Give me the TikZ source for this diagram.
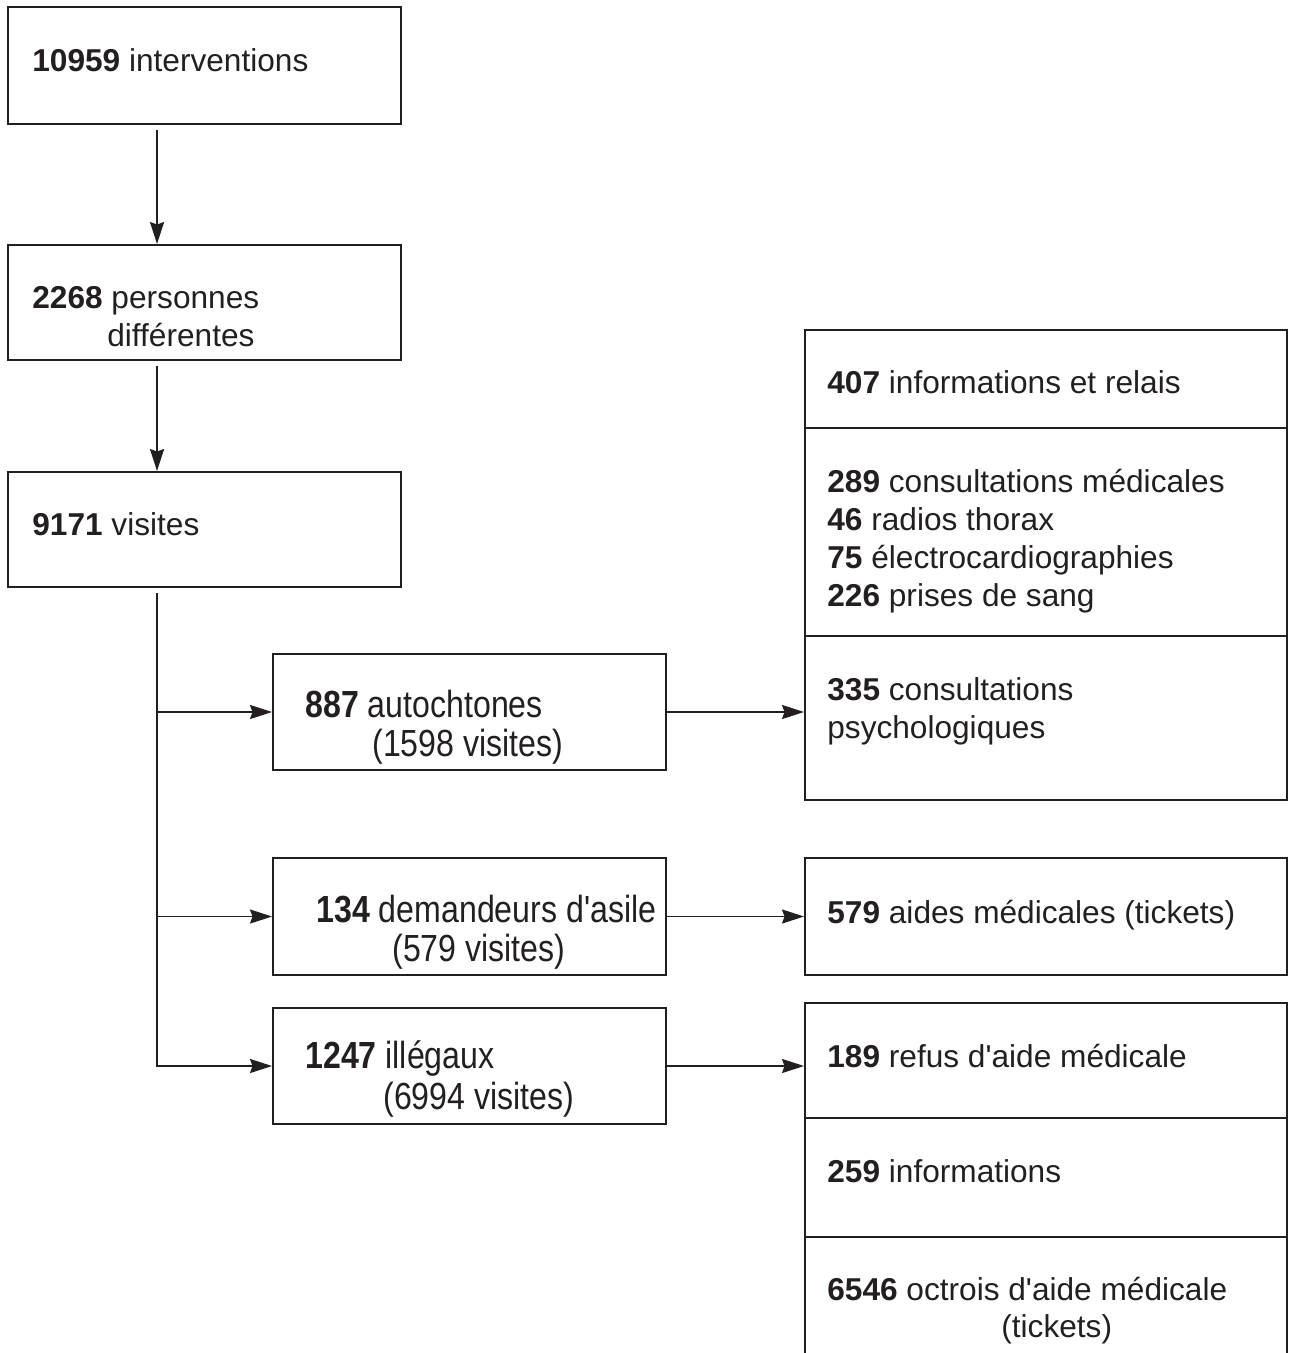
\documentclass[tikz,border=0pt]{standalone}
\usepackage{fontspec}
\setmainfont{Liberation Sans}
\newfontfamily\plainfont{Liberation Sans}
\newfontfamily\narrowfont{Liberation Sans}[FakeStretch=0.85]
\usetikzlibrary{arrows.meta,fit,calc}
\definecolor{ink}{HTML}{231F20}
\tikzset{
  box/.style={draw=ink,line width=1.1pt,inner sep=0pt},
  txt/.style={anchor=base west,inner sep=0pt,text=ink,font=\plainfont\fontsize{18}{21.6}\selectfont},
  ntxt/.style={anchor=base west,inner sep=0pt,text=ink,font=\narrowfont\fontsize{21.5}{25}\selectfont},
  arr/.style={draw=ink,line width=1.1pt,-{Stealth[length=0.44cm,width=0.28cm,inset=0.05cm]}}
}
\begin{document}
\begin{tikzpicture}[x=0.02cm,y=-0.02cm]
\useasboundingbox (0,0) rectangle (1290,1353);

% left column
\node[box,fit={(8,7) (401,124)}] (inter) {};
\node[box,fit={(8,245) (401,360)}] (pers) {};
\node[box,fit={(8,472) (401,587)}] (vis) {};
\node[txt] (inter-t) at (32,71) {\textbf{10959} interventions};
\node[txt] (pers-t) at (32,308) {\textbf{2268} personnes};
\node[txt] (pers-t2) at (107,346) {différentes};
\node[txt] (vis-t) at (32,535) {\textbf{9171} visites};

\draw[arr] ($(inter.south west)+(150,5)$) -- ($(pers.north west)+(150,0)$);
\draw[arr] ($(pers.south west)+(150,5)$) -- ($(vis.north west)+(150,0)$);

% middle column
\node[box,fit={(273,654) (666,770)}] (auto) {};
\node[box,fit={(273,858) (666,975)}] (asile) {};
\node[box,fit={(273,1008) (666,1124)}] (illeg) {};
\node[ntxt] (auto-t) at (305,717) {\textbf{887} autochtones};
\node[ntxt] (auto-t2) at (372,756) {(1598 visites)};
\node[ntxt] (asile-t) at (316,922) {\textbf{134} demandeurs d'asile};
\node[ntxt] (asile-t2) at (392,961) {(579 visites)};
\node[ntxt] (illeg-t) at (305,1068) {\textbf{1247} illégaux};
\node[ntxt] (illeg-t2) at (383,1109) {(6994 visites)};

\coordinate (trunk) at ($(vis.south west)+(150,5)$);
\draw[arr] (trunk) |- (illeg.west);
\draw[arr] (trunk |- auto.west) -- (auto.west);
\draw[arr] (trunk |- asile.west) -- (asile.west);

% right column
\node[box,fit={(805,330) (1287,428)}] (relais) {};
\node[box,fit={(805,428) (1287,636)}] (soin) {};
\node[box,fit={(805,636) (1287,800)}] (psy) {};
\node[box,fit={(805,858) (1287,975)}] (tick) {};
\node[box,fit={(805,1003) (1287,1118)}] (refus) {};
\node[box,fit={(805,1118) (1287,1237)}] (info) {};
\node[box,fit={(805,1237) (1287,1420)}] (octroi) {};

\node[txt] (relais-t) at (827,393) {\textbf{407} informations et relais};
\foreach \n/\y/\v/\t in {1/492/289/consultations médicales, 2/530/46/radios thorax,
    3/568/75/électrocardiographies, 4/606/226/prises de sang}
  \node[txt] (soin\n) at (827,\y) {\textbf{\v} \t};
\node[txt] (psy-t) at (827,700) {\textbf{335} consultations};
\node[txt] (psy-t2) at (827,738) {psychologiques};
\node[txt] (tick-t) at (827,923) {\textbf{579} aides médicales (tickets)};
\node[txt] (refus-t) at (827,1067) {\textbf{189} refus d'aide médicale};
\node[txt] (info-t) at (827,1182) {\textbf{259} informations};
\node[txt] (octroi-t) at (827,1300) {\textbf{6546} octrois d'aide médicale};
\node[txt] (octroi-t2) at (1001,1337) {(tickets)};

\draw[arr] (auto.east) -- (auto.east -| psy.west);
\draw[arr] (asile.east) -- (asile.east -| tick.west);
\draw[arr] (illeg.east) -- (illeg.east -| refus.west);
\end{tikzpicture}
\end{document}
